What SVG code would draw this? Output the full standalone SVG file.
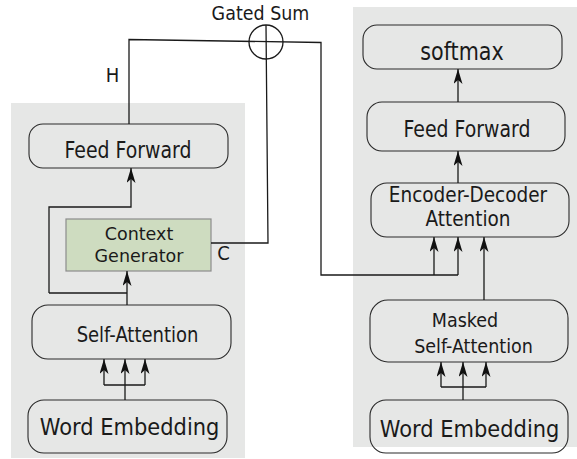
<svg xmlns="http://www.w3.org/2000/svg" width="577" height="459" viewBox="0 0 577 459">
  <style>
    .panel { fill: #e6e7e6; stroke: none; }
    .box { fill: none; stroke: #2a2a2a; stroke-width: 1.1; }
    .ctx { fill: #cedcc0; stroke: #8c8c8c; stroke-width: 1.2; }
    .wire { fill: none; stroke: #1a1a1a; stroke-width: 1.3; }
    .arrow { fill: none; stroke: #1a1a1a; stroke-width: 1.3; marker-end: url(#head); }
    .cond { font-family: "DejaVu Sans Condensed", "DejaVu Sans", sans-serif; font-stretch: condensed; fill: #1a1a1a; text-anchor: middle; }
    .norm { font-family: "DejaVu Sans", "Liberation Sans", sans-serif; fill: #1a1a1a; text-anchor: middle; }
  </style>
  <defs>
    <marker id="head" viewBox="0 -4.5 15 9" refX="15" refY="0" markerWidth="15" markerHeight="9" markerUnits="userSpaceOnUse" orient="auto">
      <path d="M0,-4.5 L15,0 L0,4.5 L4,0 Z" fill="#111"/>
    </marker>
  </defs>

  <!-- background panels -->
  <rect class="panel" x="11" y="103" width="234" height="355"/>
  <rect class="panel" x="353" y="7" width="224" height="440"/>

  <!-- encoder side -->
  <g id="enc-feed-forward">
    <rect class="box" x="29" y="124" width="199" height="44" rx="14"/>
    <text class="cond" transform="translate(128,158) scale(1,1.1)" font-size="21">Feed Forward</text>
  </g>
  <g id="context-generator">
    <rect class="ctx" x="66" y="219" width="145" height="52"/>
    <text class="norm" x="139" y="240" font-size="17.5">Context</text>
    <text class="norm" x="139" y="262" font-size="17.5">Generator</text>
  </g>
  <g id="enc-self-attention">
    <rect class="box" x="32" y="305" width="199" height="54" rx="16"/>
    <text class="cond" transform="translate(137.5,342) scale(1,1.1)" font-size="20">Self-Attention</text>
  </g>
  <g id="enc-word-embedding">
    <rect class="box" x="28" y="400" width="199" height="53" rx="16"/>
    <text class="norm" transform="translate(129.5,435) scale(1,1.08)" font-size="21">Word Embedding</text>
  </g>

  <!-- gated sum -->
  <g id="gated-sum">
    <circle cx="266" cy="42" r="17" fill="none" stroke="#1a1a1a" stroke-width="1.3"/>
    <text class="norm" transform="translate(260.5,20) scale(1,1.08)" font-size="17.5">Gated Sum</text>
  </g>

  <!-- decoder side -->
  <g id="softmax">
    <rect class="box" x="363" y="25" width="199" height="44" rx="14"/>
    <text class="cond" transform="translate(462,60) scale(1,1.1)" font-size="23">softmax</text>
  </g>
  <g id="dec-feed-forward">
    <rect class="box" x="367" y="102" width="198" height="49" rx="15"/>
    <text class="cond" transform="translate(467,137) scale(1,1.1)" font-size="21">Feed Forward</text>
  </g>
  <g id="enc-dec-attention">
    <rect class="box" x="371" y="183" width="198" height="54" rx="16"/>
    <text class="cond" x="468" y="202" font-size="20.5">Encoder-Decoder</text>
    <text class="cond" x="468" y="225.5" font-size="20.5">Attention</text>
  </g>
  <g id="masked-self-attention">
    <rect class="box" x="370" y="300" width="198" height="62" rx="18"/>
    <text class="cond" x="465" y="327" font-size="19.5">Masked</text>
    <text class="cond" x="473.5" y="353" font-size="19.5">Self-Attention</text>
  </g>
  <g id="dec-word-embedding">
    <rect class="box" x="370" y="400" width="198" height="53" rx="16"/>
    <text class="norm" transform="translate(469.5,437) scale(1,1.08)" font-size="21">Word Embedding</text>
  </g>

  <!-- connectors -->
  <g id="connectors">
    <!-- H: encoder output through the gated sum into the decoder -->
    <path class="wire" d="M129,124 V39.5 L321,42.5 V275 H458"/>
    <path class="arrow" d="M434,275 V237"/>
    <path class="arrow" d="M458,275 V237"/>
    <!-- C: context vector into the gated sum -->
    <path class="wire" d="M211,243 H268 L266,25"/>
    <!-- encoder internals -->
    <path class="arrow" d="M49,293 V207 H131 V168"/>
    <path class="wire" d="M49,293 H127"/>
    <path class="arrow" d="M127,305 V271"/>
    <path class="wire" d="M125,400 V385 M104,385 H145"/>
    <path class="arrow" d="M104,385 V359"/>
    <path class="arrow" d="M125,385 V359"/>
    <path class="arrow" d="M145,385 V359"/>
    <!-- decoder internals -->
    <path class="wire" d="M463,400 V387 M441,387 H486"/>
    <path class="arrow" d="M441,387 V362"/>
    <path class="arrow" d="M463,387 V362"/>
    <path class="arrow" d="M486,387 V362"/>
    <path class="arrow" d="M484,300 V237"/>
    <path class="arrow" d="M458,183 V151"/>
    <path class="arrow" d="M458,102 V69"/>
  </g>

  <!-- edge labels -->
  <text class="norm" transform="translate(112.5,82) scale(1,1.08)" font-size="18">H</text>
  <text class="norm" transform="translate(223.5,260) scale(1,1.08)" font-size="18">C</text>
</svg>
